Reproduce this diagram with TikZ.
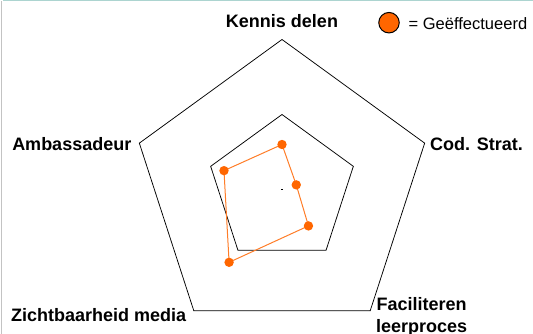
\documentclass[tikz,border=0pt]{standalone}
\usepackage{fontspec}
\setmainfont{Liberation Sans}
\usetikzlibrary{calc}
\definecolor{dataorange}{RGB}{255,102,0}
\definecolor{lineorange}{RGB}{255,125,40}
\definecolor{topteal}{RGB}{172,212,208}
\definecolor{leftgray}{RGB}{195,195,195}
\tikzset{
  grid/.style={draw=black, line width=0.75pt, line join=miter},
  datapoly/.style={draw=lineorange, line width=1pt},
  datadot/.style={circle, fill=dataorange, inner sep=0pt, minimum size=9.4pt},
  axislabel/.style={font=\fontsize{18}{21}\selectfont\bfseries, inner sep=0pt},
  legendtext/.style={font=\fontsize{16.5}{19}\selectfont, inner sep=0pt}
}
\begin{document}
\begin{tikzpicture}[x=1pt,y=-1pt]
\useasboundingbox (0,0) rectangle (533,334);
% frame lines
\draw[topteal, line width=1.5pt] (3,0.6) -- (533,0.6);
\draw[leftgray, line width=1.5pt] (1.5,1) -- (1.5,334);
% center
\coordinate (c) at (282,189.5);
% outer pentagon
\path (c) ++(-90:150) coordinate (o1);
\path (c) ++(-18:150) coordinate (o2);
\path (c) ++(54:150) coordinate (o3);
\path (c) ++(126:150) coordinate (o4);
\path (c) ++(198:150) coordinate (o5);
\draw[grid] (o1) -- (o2) -- (o3) -- (o4) -- (o5) -- cycle;
% inner pentagon
\path (c) ++(-90:75) coordinate (i1);
\path (c) ++(-18:75) coordinate (i2);
\path (c) ++(54:75) coordinate (i3);
\path (c) ++(126:75) coordinate (i4);
\path (c) ++(198:75) coordinate (i5);
\draw[grid] (i1) -- (i2) -- (i3) -- (i4) -- (i5) -- cycle;
% center dot
\fill[black] ($(c)+(-0.8,-0.8)$) rectangle ($(c)+(0.8,0.8)$);
% data
\path (c) ++(-90:45) coordinate (d1);
\path (c) ++(-18:15) coordinate (d2);
\path (c) ++(54:45) coordinate (d3);
\path (c) ++(126:90) coordinate (d4);
\path (c) ++(198:61) coordinate (d5);
\draw[datapoly] (d1) -- (d2) -- (d3) -- (d4) -- (d5) -- cycle;
\foreach \p in {d1,d2,d3,d4,d5} \node[datadot] (n\p) at (\p) {};
% labels
\node[axislabel, anchor=base] (lk) at (282,27.3) {Kennis delen};
\node[axislabel, anchor=base east] (la) at (131.5,150) {Ambassadeur};
\node[axislabel, anchor=base west] (lc) at (430,150) {Cod. Strat.};
\node[axislabel, anchor=base west] (lz) at (11,321) {Zichtbaarheid media};
\node[axislabel, anchor=base] (lf1) at (421.7,310.7) {Faciliteren};
\node[axislabel, anchor=base] (lf2) at (421.7,332.6) {leerproces};
% legend
\node[circle, draw=black, line width=1pt, fill=dataorange, inner sep=0pt, minimum size=20.5pt] (legdot) at (389,22.7) {};
\node[legendtext, anchor=base west] (legtext) at (408.5,30) {= Geëffectueerd};
\end{tikzpicture}
\end{document}
